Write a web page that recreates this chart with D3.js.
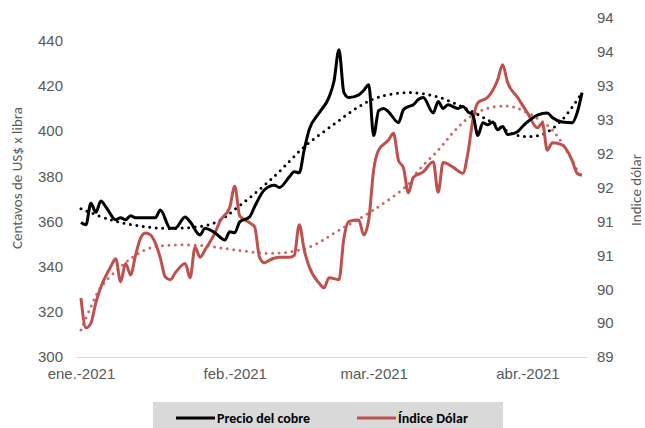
<!DOCTYPE html>
<html><head><meta charset="utf-8">
<script src="https://cdn.jsdelivr.net/npm/d3@7"></script>
<style>
html,body{margin:0;padding:0;background:#fff;}
svg{display:block;font-family:Carlito,"Liberation Sans Narrow",Lato,sans-serif;}
</style></head>
<body><svg id="c" width="645" height="428"></svg>
<script>
const copperDates = ["2021-01-01","2021-01-02","2021-01-03","2021-01-04","2021-01-05","2021-01-06","2021-01-08","2021-01-09","2021-01-10","2021-01-11","2021-01-12","2021-01-16","2021-01-17","2021-01-19","2021-01-20","2021-01-22","2021-01-23","2021-01-25","2021-01-26","2021-01-27","2021-01-28","2021-01-30","2021-01-31","2021-02-01","2021-02-02","2021-02-04","2021-02-05","2021-02-07","2021-02-09","2021-02-10","2021-02-12","2021-02-13","2021-02-14","2021-02-15","2021-02-16","2021-02-18","2021-02-20","2021-02-21","2021-02-22","2021-02-23","2021-02-24","2021-02-26","2021-02-27","2021-02-28","2021-03-01","2021-03-02","2021-03-03","2021-03-04","2021-03-06","2021-03-07","2021-03-08","2021-03-09","2021-03-10","2021-03-11","2021-03-13","2021-03-14","2021-03-15","2021-03-16","2021-03-18","2021-03-19","2021-03-20","2021-03-21","2021-03-22","2021-03-23","2021-03-24","2021-03-25","2021-03-26","2021-03-27","2021-03-28","2021-03-30","2021-03-31","2021-04-01","2021-04-03","2021-04-05","2021-04-06","2021-04-08","2021-04-10","2021-04-11","2021-04-12"];
const copperValues = [359.5,358.5,368,364,369,366.5,360.7,361.6,360.7,362.5,361.6,361.6,365,357,357,362,359.8,354,357,356.3,355,351.8,355.4,355,359.8,362,366.5,374,376,375,379.7,382,381.5,391.7,400.6,408,415,422,436,417,414.8,416,418,420.5,398,409,410,408.5,403.7,409.4,410.8,411.6,413.9,414.8,408,413,410,411.6,410,410.8,408.5,407,398,403.7,402.8,404,400.6,402,398.4,399.7,402,404,407,408,406,404,403.7,408,417];

const dollarDates = ["2021-01-01","2021-01-02","2021-01-03","2021-01-04","2021-01-05","2021-01-07","2021-01-08","2021-01-09","2021-01-10","2021-01-11","2021-01-12","2021-01-13","2021-01-14","2021-01-15","2021-01-16","2021-01-17","2021-01-18","2021-01-19","2021-01-20","2021-01-22","2021-01-23","2021-01-24","2021-01-25","2021-01-26","2021-01-28","2021-01-29","2021-01-31","2021-02-01","2021-02-02","2021-02-04","2021-02-05","2021-02-06","2021-02-07","2021-02-08","2021-02-10","2021-02-12","2021-02-13","2021-02-14","2021-02-15","2021-02-16","2021-02-18","2021-02-19","2021-02-20","2021-02-22","2021-02-23","2021-02-24","2021-02-26","2021-02-27","2021-02-28","2021-03-01","2021-03-02","2021-03-04","2021-03-05","2021-03-06","2021-03-07","2021-03-08","2021-03-09","2021-03-11","2021-03-13","2021-03-14","2021-03-15","2021-03-17","2021-03-19","2021-03-20","2021-03-21","2021-03-22","2021-03-24","2021-03-26","2021-03-27","2021-03-28","2021-03-30","2021-04-01","2021-04-03","2021-04-04","2021-04-05","2021-04-06","2021-04-08","2021-04-10","2021-04-11","2021-04-12"];
const dollarValues = [89.87,89.43,89.50,89.80,90.03,90.33,90.45,90.11,90.38,90.21,90.50,90.75,90.83,90.80,90.68,90.46,90.18,90.14,90.24,90.38,90.17,90.62,90.47,90.58,90.83,91.0,91.21,91.52,91.08,90.98,90.92,90.47,90.39,90.43,90.47,90.47,90.5,90.95,90.58,90.33,90.09,90.02,90.17,90.14,90.75,91.0,91.02,90.8,91.02,91.76,92.05,92.2,92.30,91.9,91.79,91.42,91.65,91.73,91.88,91.43,91.87,91.8,91.71,92.01,92.5,92.75,92.83,93.09,93.31,93.05,92.83,92.6,92.38,92.45,92.05,92.16,92.13,91.9,91.71,91.68];

// dotted polynomial trendlines
const copperTrendDates = ["2021-01-01","2021-01-07","2021-01-14","2021-01-21","2021-01-28","2021-02-02","2021-02-09","2021-02-15","2021-02-21","2021-02-26","2021-03-02","2021-03-08","2021-03-14","2021-03-20","2021-03-25","2021-03-30","2021-04-04","2021-04-08","2021-04-12"];
const copperTrendValues = [365.6,360.7,357.6,357,359.4,367,380,393,403,410.8,415,417,415,409.5,403.7,398,398.5,405,417];
const dollarTrendDates = ["2021-01-01","2021-01-03","2021-01-05","2021-01-09","2021-01-12","2021-01-15","2021-01-19","2021-01-26","2021-02-01","2021-02-09","2021-02-16","2021-02-22","2021-03-01","2021-03-08","2021-03-10","2021-03-14","2021-03-17","2021-03-20","2021-03-24","2021-03-28","2021-03-30","2021-04-03","2021-04-06","2021-04-09","2021-04-12"];
const dollarTrendValues = [89.40,89.74,90.03,90.33,90.50,90.61,90.65,90.64,90.58,90.53,90.62,90.87,91.17,91.55,91.75,92.05,92.31,92.52,92.67,92.70,92.67,92.52,92.35,92.03,91.61];

const monthTickDates = ["2021-01-01","2021-02-01","2021-03-01","2021-04-01"];
const monthTickLabels = ["ene.-2021","feb.-2021","mar.-2021","abr.-2021"];
const leftTicks = [300,320,340,360,380,400,420,440];
const rightTicks = [89,89.5,90,90.5,91,91.5,92,92.5,93,93.5,94];
const seriesNames = ["Precio del cobre","Índice Dólar"];
const leftTitle = "Centavos de US$ x libra";
const rightTitle = "Indice dólar";

const parse = d3.utcParse("%Y-%m-%d");
const zip = (ds, vs) => ds.map((d,i)=>({date:parse(d), v:vs[i]}));
const copper = zip(copperDates, copperValues);
const dollar = zip(dollarDates, dollarValues);
const copperTrend = zip(copperTrendDates, copperTrendValues);
const dollarTrend = zip(dollarTrendDates, dollarTrendValues);

const svg = d3.select("#c");
const L = 76, R = 587, T = 18, B = 357;
const x = d3.scaleUtc().domain([parse("2020-12-31"), parse("2021-04-13")]).range([L, R]);
const yL = d3.scaleLinear().domain([300, 450]).range([B, T]);
const yR = d3.scaleLinear().domain([89, 94]).range([B, T]);

const black = "#000000", red = "#c0504d", txt = "#595959";

const xAxis = svg.append("g").attr("transform",`translate(0,${B})`)
  .call(d3.axisBottom(x).tickValues(monthTickDates.map(parse))
    .tickFormat((d,i)=>monthTickLabels[i]).tickSize(0).tickPadding(11));
xAxis.select(".domain").attr("stroke","#d9d9d9").attr("stroke-width",1.2);
xAxis.selectAll("text").attr("fill",txt).attr("font-size",15);

const lAxis = svg.append("g").attr("transform",`translate(${L},0)`)
  .call(d3.axisLeft(yL).tickValues(leftTicks).tickSize(0).tickPadding(13));
lAxis.select(".domain").remove();
lAxis.selectAll("text").attr("fill",txt).attr("font-size",15);

const rAxis = svg.append("g").attr("transform",`translate(${R},0)`)
  .call(d3.axisRight(yR).tickValues(rightTicks).tickFormat(d3.format(".0f")).tickSize(0).tickPadding(10));
rAxis.select(".domain").remove();
rAxis.selectAll("text").attr("fill",txt).attr("font-size",15);

svg.append("text").attr("transform","translate(22,178) rotate(-90)")
  .attr("text-anchor","middle").attr("fill",txt).attr("font-size",15).text(leftTitle);
svg.append("text").attr("transform","translate(641,190) rotate(-90)")
  .attr("text-anchor","middle").attr("fill",txt).attr("font-size",15).text(rightTitle);

const lineL = d3.line().x(d=>x(d.date)).y(d=>yL(d.v)).curve(d3.curveMonotoneX);
const lineR = d3.line().x(d=>x(d.date)).y(d=>yR(d.v)).curve(d3.curveMonotoneX);
const trendL = d3.line().x(d=>x(d.date)).y(d=>yL(d.v)).curve(d3.curveCatmullRom.alpha(0.5));
const trendR = d3.line().x(d=>x(d.date)).y(d=>yR(d.v)).curve(d3.curveCatmullRom.alpha(0.5));

svg.append("path").datum(dollarTrend).attr("d",trendR).attr("fill","none")
  .attr("stroke",red).attr("stroke-width",3).attr("stroke-linecap","round").attr("stroke-dasharray","0 6.5").attr("opacity",0.85);
svg.append("path").datum(copperTrend).attr("d",trendL).attr("fill","none")
  .attr("stroke",black).attr("stroke-width",3).attr("stroke-linecap","round").attr("stroke-dasharray","0 6.5");

svg.append("path").datum(dollar).attr("d",lineR).attr("fill","none")
  .attr("stroke",red).attr("stroke-width",3).attr("stroke-linejoin","round");
svg.append("path").datum(copper).attr("d",lineL).attr("fill","none")
  .attr("stroke",black).attr("stroke-width",3).attr("stroke-linejoin","round");

const lg = svg.append("g");
lg.append("rect").attr("x",153).attr("y",402).attr("width",350).attr("height",28).attr("fill","#d9d9d9");
const items = [{name:seriesNames[0], color:black, x0:176}, {name:seriesNames[1], color:red, x0:357}];
items.forEach(it=>{
  lg.append("line").attr("x1",it.x0).attr("x2",it.x0+39).attr("y1",418).attr("y2",418)
    .attr("stroke",it.color).attr("stroke-width",3);
  lg.append("text").attr("x",it.x0+41).attr("y",423).attr("font-size",14).attr("font-weight","bold")
    .attr("fill","#000").text(it.name);
});
</script></body></html>
